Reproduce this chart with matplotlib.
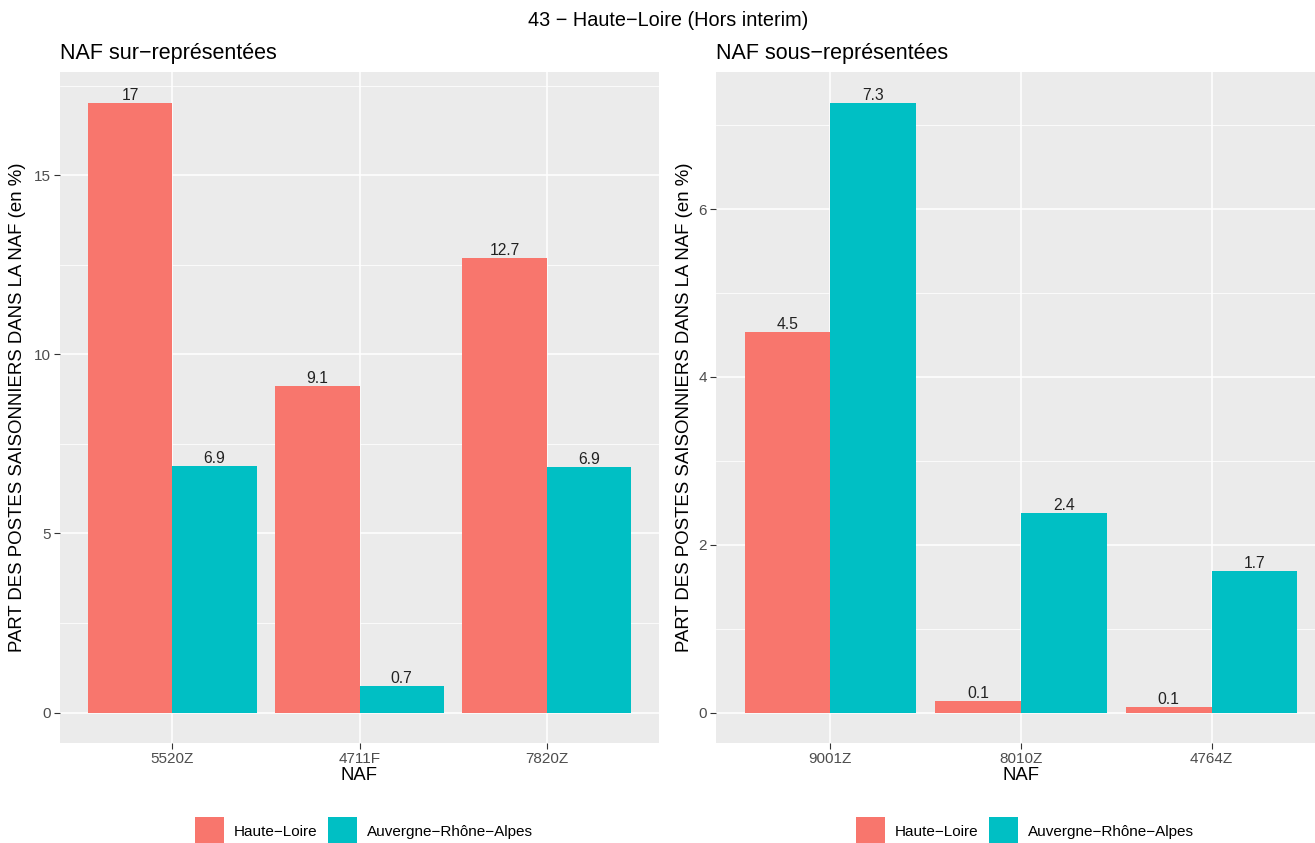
import matplotlib
matplotlib.use("Agg")
import matplotlib.pyplot as plt
import numpy as np
from matplotlib.patches import Patch

plt.rcParams['font.family'] = ['Liberation Sans', 'DejaVu Sans']

# ---- data ----
suptitle = "43 \u2212 Haute\u2212Loire (Hors interim)"
series_names = ["Haute\u2212Loire", "Auvergne\u2212Rh\u00f4ne\u2212Alpes"]

left_title = "NAF sur\u2212repr\u00e9sent\u00e9es"
left_cats = ["5520Z", "4711F", "7820Z"]
left_dept = [17.03, 9.11, 12.69]
left_region = [6.88, 0.74, 6.86]
left_yticks = [0, 5, 10, 15]

right_title = "NAF sous\u2212repr\u00e9sent\u00e9es"
right_cats = ["9001Z", "8010Z", "4764Z"]
right_dept = [4.54, 0.14, 0.07]
right_region = [7.27, 2.38, 1.69]
right_yticks = [0, 2, 4, 6]

ylabel = "PART DES POSTES SAISONNIERS DANS LA NAF (en %)"
xlabel = "NAF"

colors = ["#F8766D", "#00BFC4"]

W, H = 1315, 843
fig = plt.figure(figsize=(W / 100, H / 100), dpi=100)

def fmt(v):
    r = round(v, 1)
    return f"{r:g}"

def panel(rect, cats, dept, region, yticks, title, ylab_x):
    ax = fig.add_axes(rect)
    ax.set_facecolor("#EBEBEB")
    x = np.arange(1, len(cats) + 1)
    w = 0.45
    for vals, off, c in [(dept, -w / 2, colors[0]), (region, w / 2, colors[1])]:
        ax.bar(x + off, vals, width=w, color=c, zorder=3)
        for xi, v in zip(x, vals):
            ax.text(xi + off, v, fmt(v), ha="center", va="bottom",
                    fontsize=11.3, color="#222222", zorder=4)
    ymax = max(max(dept), max(region))
    ax.set_ylim(-0.05 * ymax, ymax * 1.05)
    ax.set_xlim(0.4, len(cats) + 0.6)
    ax.set_xticks(x)
    ax.set_xticklabels(cats)
    ax.set_yticks(yticks)
    step = yticks[1] - yticks[0]
    minors = np.arange(step / 2, ymax * 1.05, step)
    ax.set_yticks(minors, minor=True)
    ax.grid(which="major", color="white", linewidth=1.1, zorder=0)
    ax.grid(which="minor", axis="y", color="white", linewidth=0.55, zorder=0)
    ax.set_axisbelow(True)
    for s in ax.spines.values():
        s.set_visible(False)
    ax.tick_params(axis="both", which="major", length=4, width=0.8,
                   color="#333333", labelcolor="#4D4D4D", labelsize=11, pad=2.5)
    ax.tick_params(axis="both", which="minor", length=0)
    ax.set_xlabel(xlabel, fontsize=13.3, color="black", labelpad=0.5)
    ax.set_ylabel(ylabel, fontsize=13.4, color="black")
    ax.yaxis.set_label_coords(ylab_x, 0.5)
    ax.set_title(title, loc="left", fontsize=15.5, color="black", pad=9)
    return ax

top = 72
bot = 743
rectL = [60 / W, 1 - bot / H, (659 - 60) / W, (bot - top) / H]
rectR = [716 / W, 1 - bot / H, (1326 - 716) / W, (bot - top) / H]
axL = panel(rectL, left_cats, left_dept, left_region, left_yticks, left_title, (26 - 60) / 599)
axR = panel(rectR, right_cats, right_dept, right_region, right_yticks, right_title, (693 - 716) / 610)

fig.text(668 / W, 1 - 20 / H, suptitle, ha="center", va="center", fontsize=14.3, color="black")

handles = [Patch(facecolor=c) for c in colors]
for cx in [364, 1025]:
    fig.legend(handles, series_names, loc="center", bbox_to_anchor=(cx / W, 1 - 831 / H),
               ncol=2, frameon=False, fontsize=11, handlelength=1.9, handleheight=2.5,
               handletextpad=0.65, columnspacing=0.65, borderpad=0.1)

fig.savefig("out.png", dpi=100)
